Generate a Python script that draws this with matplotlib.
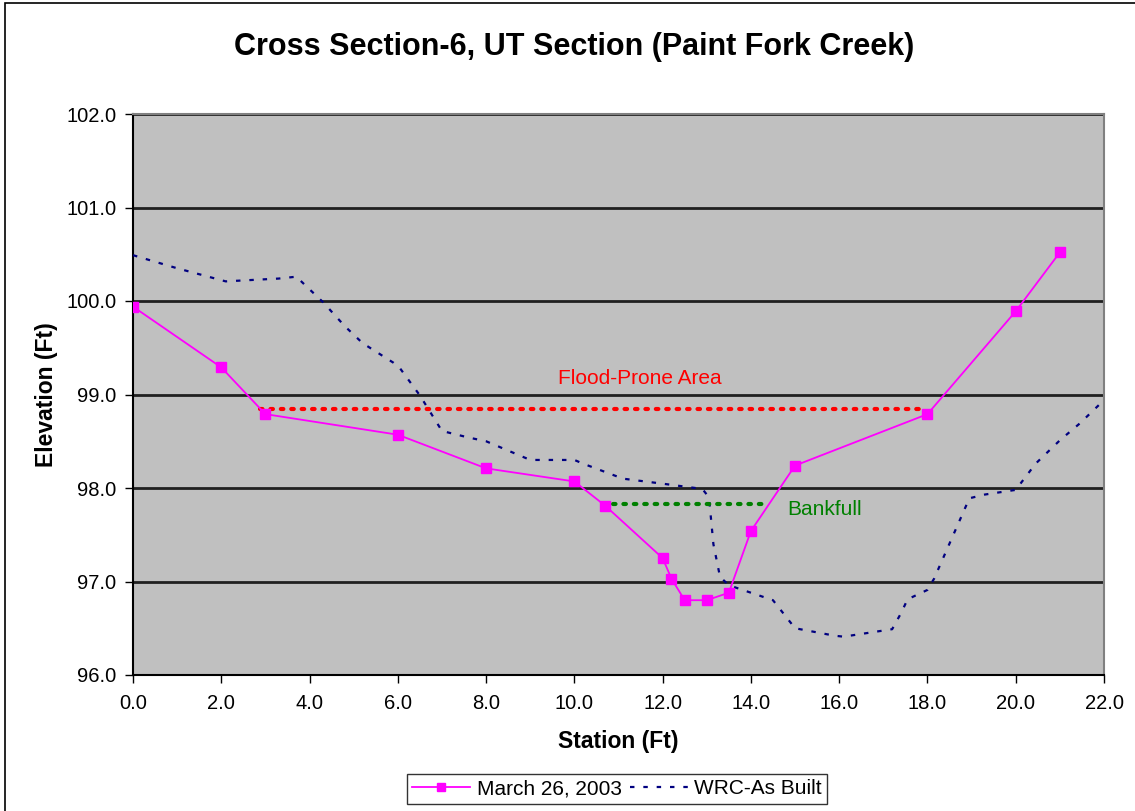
import matplotlib
matplotlib.use("Agg")
import matplotlib.pyplot as plt
from matplotlib.patches import Rectangle

plt.rcParams['font.family'] = ['Liberation Sans', 'DejaVu Sans']

# Survey data
station_2003 = [0, 2, 3, 6, 8, 10, 10.7, 12, 12.2, 12.5, 13, 13.5, 14, 15, 18, 20, 21]
elev_2003 = [99.94, 99.29, 98.79, 98.57, 98.21, 98.07, 97.81, 97.25, 97.03, 96.80,
             96.80, 96.88, 97.54, 98.24, 98.79, 99.89, 100.52]

station_asbuilt = [0, 1.0, 2.1, 3.3, 3.7, 4.3, 4.8, 5.2, 5.9, 6.05, 6.5, 7.0, 7.6, 8.0,
                   9.0, 10.0, 10.2, 11.1, 12.1, 12.9, 13.05, 13.15, 13.3, 13.5, 14.5,
                   15.0, 15.9, 16.1, 17.2, 17.4, 17.55, 18.0, 18.15, 18.95, 19.3, 20.0,
                   20.45, 21.0, 21.45, 22.0]
elev_asbuilt = [100.49, 100.35, 100.21, 100.24, 100.26, 99.99, 99.73, 99.55, 99.34, 99.28,
                98.99, 98.61, 98.54, 98.50, 98.30, 98.30, 98.26, 98.10, 98.04, 97.99,
                97.90, 97.40, 97.05, 96.96, 96.80, 96.50, 96.42, 96.41, 96.49, 96.66,
                96.81, 96.91, 97.03, 97.89, 97.93, 97.98, 98.26, 98.51, 98.69, 98.94]

flood_x = [2.88, 17.88]
flood_y = [98.85, 98.85]
bank_x = [10.87, 14.25]
bank_y = [97.83, 97.83]

fig = plt.figure(figsize=(11.35, 8.11), dpi=100)
fig.patches.append(Rectangle((5 / 1135, -0.01), 1.02, 1 - 3 / 811 + 0.01,
                             transform=fig.transFigure, fill=False,
                             edgecolor='black', linewidth=1.2))

ax = fig.add_axes([133 / 1135, 1 - 675 / 811, 971 / 1135, 561 / 811])
ax.set_facecolor('#C0C0C0')

ax.plot(station_2003, elev_2003, color='#FF00FF', linewidth=1.3, marker='s',
        markersize=7, markerfacecolor='#FF00FF', markeredgecolor='#FF00FF',
        label='March 26, 2003', zorder=4)
ax.plot(station_asbuilt, elev_asbuilt, color='#000080', linewidth=1.6,
        linestyle=(0, (2, 4)), label='WRC-As Built', zorder=3)

ax.plot(flood_x, flood_y, color='#FF0000', linewidth=3, linestyle=(0, (0.6, 1.9)),
        dash_capstyle='round', zorder=3)
ax.plot(bank_x, bank_y, color='#008000', linewidth=3, linestyle=(0, (0.6, 1.9)),
        dash_capstyle='round', zorder=3)
ax.text(11.49, 99.17, 'Flood-Prone Area', color='#FF0000', fontsize=15,
        ha='center', va='center')
ax.text(15.68, 97.77, 'Bankfull', color='#008000', fontsize=15,
        ha='center', va='center')

ax.set_xlim(0, 22)
ax.set_ylim(96, 102)
ax.set_xticks(range(0, 23, 2))
ax.set_xticklabels([f'{v:.1f}' for v in range(0, 23, 2)])
ax.set_yticks(range(96, 103))
ax.set_yticklabels([f'{v:.1f}' for v in range(96, 103)])
ax.tick_params(axis='both', labelsize=14.5, direction='out', length=6, width=1,
               color='black')
ax.tick_params(axis='x', pad=8)
ax.tick_params(axis='y', pad=6)
ax.yaxis.grid(True, color='#202020', linewidth=2)
ax.set_axisbelow(True)

ax.spines['left'].set_color('black')
ax.spines['bottom'].set_color('black')
ax.spines['right'].set_color('#808080')
ax.spines['top'].set_color('#808080')
for s in ax.spines.values():
    s.set_linewidth(1.5)

ax.set_xlabel('Station (Ft)', fontsize=16.5, fontweight='bold', labelpad=12)
ax.set_ylabel('Elevation (Ft)', fontsize=16.5, fontweight='bold', labelpad=6)
fig.text(574 / 1135, 1 - 47 / 811, 'Cross Section-6, UT Section (Paint Fork Creek)',
         fontsize=22, fontweight='bold', ha='center', va='center')

leg = fig.legend(loc='center', bbox_to_anchor=(617 / 1135, 1 - 789 / 811), ncol=2,
                 fontsize=15, frameon=True, fancybox=False, edgecolor='black',
                 handlelength=2.8, columnspacing=0.4, handletextpad=0.3,
                 borderpad=0.25, borderaxespad=0, markerscale=0.8)
leg.get_frame().set_linewidth(1.0)

fig.savefig('out.png', dpi=100)
